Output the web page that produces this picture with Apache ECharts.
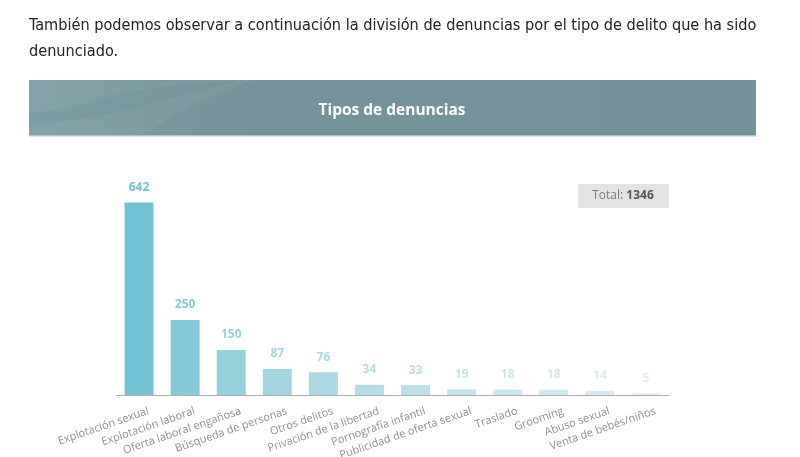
<!DOCTYPE html>
<html>
<head>
<meta charset="utf-8">
<script src="https://cdn.jsdelivr.net/npm/echarts@6/dist/echarts.min.js"></script>
<style>
html,body{margin:0;padding:0;background:#fff;}
#chart{width:800px;height:457px;}
</style>
</head>
<body>
<div id="chart"></div>
<script>
// ---- data ----
const introLines = [
  "También podemos observar a continuación la división de denuncias por el tipo de delito que ha sido",
  "denunciado."
];
const chartTitle = "Tipos de denuncias";
const categories = [
  "Explotación sexual", "Explotación laboral", "Oferta laboral engañosa",
  "Búsqueda de personas", "Otros delitos", "Privación de la libertad",
  "Pornografía infantil", "Publicidad de oferta sexual", "Traslado",
  "Grooming", "Abuso sexual", "Venta de bebés/niños"
];
const values = [642, 250, 150, 87, 76, 34, 33, 19, 18, 18, 14, 5];
const totalLabel = "Total: ";
const totalValue = 1346;

// ---- styles ----
const barColors = ["#72c3d4","#86cada","#95d0dd","#a2d5e0","#acd9e3","#b6dde6",
                   "#bde0e8","#c5e3ea","#cbe6ec","#d0e8ee","#d6ebf0","#dceef2"];

const chart = echarts.init(document.getElementById('chart'));
const labelFont = "'Open Sans', Lato, sans-serif";
const paraFont = "'Liberation Sans Narrow', 'DejaVu Sans Condensed', sans-serif";

chart.setOption({
  animation: false,
  grid: { left: 116, right: 131, top: 185, bottom: 62, containLabel: false, outerBoundsMode: 'none' },
  xAxis: {
    type: 'category',
    data: categories,
    axisLine: { lineStyle: { color: '#b0b0b0', width: 1 } },
    axisTick: { inside: true, length: 4, lineStyle: { color: '#b0b0b0' } },
    axisLabel: {
      rotate: 19, interval: 0, margin: 19, padding: [0, -10, 0, 0],
      color: '#909090', fontSize: 11, fontFamily: labelFont
    }
  },
  yAxis: { type: 'value', min: 0, max: 700, show: false, splitLine: { show: false } },
  series: [{
    type: 'bar',
    barWidth: 29,
    data: values.map((v, i) => ({
      value: v,
      itemStyle: { color: barColors[i] },
      label: { color: barColors[i] }
    })),
    label: {
      show: true, position: 'top', distance: 9,
      fontSize: 12, fontWeight: 'bold', fontFamily: labelFont
    }
  }],
  graphic: [
    {
      type: 'text', left: 29, top: 18,
      style: { text: introLines[0], fill: '#222222', fontSize: 16.15, fontFamily: paraFont }
    },
    {
      type: 'text', left: 29, top: 44,
      style: { text: introLines[1], fill: '#222222', fontSize: 16.15, fontFamily: paraFont }
    },
    {
      type: 'rect', shape: { x: 29, y: 80, width: 727, height: 56 },
      style: { fill: new echarts.graphic.LinearGradient(0, 0, 1, 0, [
        { offset: 0, color: '#7c9ea5' }, { offset: 0.3, color: '#75939a' }, { offset: 1, color: '#74929a' }
      ]) }
    },
    {
      type: 'polygon',
      shape: { points: [[29,80],[260,80],[150,88],[29,112]], smooth: 0.3 },
      style: { fill: 'rgba(255,255,255,0.05)' }
    },
    {
      type: 'polygon',
      shape: { points: [[29,136],[29,128],[120,112],[200,90],[250,80],[190,106],[135,136]], smooth: 0.3 },
      style: { fill: 'rgba(255,255,255,0.05)' }
    },
    {
      type: 'rect', shape: { x: 29, y: 135, width: 727, height: 1.5 },
      style: { fill: '#b3c7cb' }
    },
    {
      type: 'text', x: 392, y: 111,
      style: { text: chartTitle, fill: '#ffffff', fontSize: 15.5, fontWeight: 'bold',
               fontFamily: labelFont, align: 'center', verticalAlign: 'middle' }
    },
    {
      type: 'rect', shape: { x: 578, y: 184, width: 91, height: 24 },
      style: { fill: '#e3e3e3' }
    },
    {
      type: 'text', x: 623, y: 196,
      style: {
        text: '{a|' + totalLabel + '}{b|' + totalValue + '}',
        align: 'center', verticalAlign: 'middle',
        rich: {
          a: { fill: '#7a7a7a', fontSize: 12, fontFamily: labelFont },
          b: { fill: '#555555', fontSize: 12, fontWeight: 'bold', fontFamily: labelFont }
        }
      }
    }
  ]
});
</script>
</body>
</html>
